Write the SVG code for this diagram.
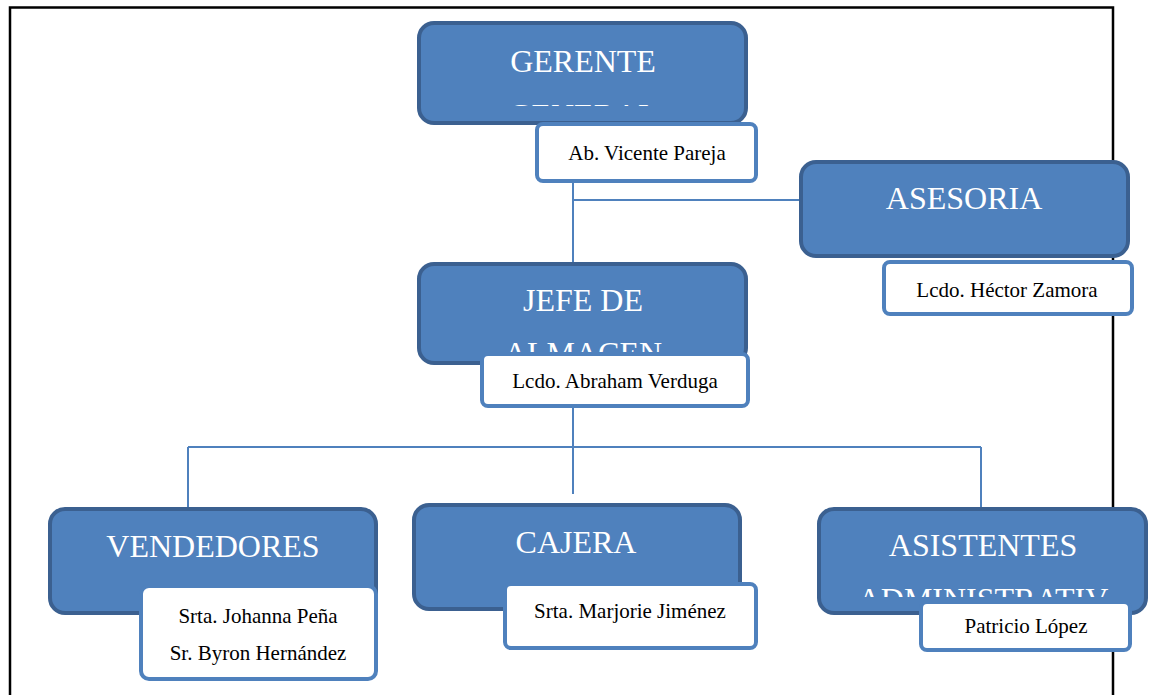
<svg xmlns="http://www.w3.org/2000/svg" width="1155" height="695" viewBox="0 0 1155 695">
<style>
.pg{fill:none;stroke:#000;stroke-width:2.5}
.box{fill:#4f81bd;stroke:#3b6090;stroke-width:4}
.nb{fill:#fff;stroke:#4f81bd;stroke-width:4}
.t{font-family:"Liberation Serif","Times New Roman",serif;font-size:32px;fill:#fff;text-anchor:middle}
.n{font-family:"Liberation Serif","Times New Roman",serif;font-size:21px;fill:#000;text-anchor:middle}
.c{fill:none;stroke:#4f81bd;stroke-width:2}
</style>
<defs>
<clipPath id="cg"><rect x="420" y="40" width="326" height="66"/></clipPath>
<clipPath id="cj"><rect x="420" y="280" width="326" height="73"/></clipPath>
<clipPath id="ca"><rect x="820" y="525" width="326" height="72"/></clipPath>
</defs>
<path class="pg" d="M10 695 V7.5 H1113 V695"/>
<g id="connectors">
<path class="c" d="M573 183 V263"/>
<path class="c" d="M573 200 H800"/>
<path class="c" d="M573 408 V494"/>
<path class="c" d="M188 447 H981"/>
<path class="c" d="M188 447 V508"/>
<path class="c" d="M981 447 V507"/>
</g>
<g id="gerente">
<rect class="box" x="419" y="23" width="327" height="100" rx="15"/>
<text class="t" x="583" y="72">GERENTE</text>
<text class="t" x="583" y="126" clip-path="url(#cg)">GENERAL</text>
<rect class="nb" x="537" y="124" width="219" height="57" rx="6"/>
<text class="n" x="647" y="160">Ab. Vicente Pareja</text>
</g>
<g id="asesoria">
<rect class="box" x="801" y="162" width="327" height="94" rx="15"/>
<text class="t" x="964" y="209">ASESORIA</text>
<rect class="nb" x="884" y="262" width="248" height="52" rx="6"/>
<text class="n" x="1007" y="297">Lcdo. Héctor Zamora</text>
</g>
<g id="jefe">
<rect class="box" x="419" y="264" width="327" height="99" rx="15"/>
<text class="t" x="583" y="311">JEFE DE</text>
<text class="t" x="583" y="364" clip-path="url(#cj)">ALMACEN</text>
<rect class="nb" x="482" y="354" width="266" height="52" rx="6"/>
<text class="n" x="615" y="388">Lcdo. Abraham Verduga</text>
</g>
<g id="vendedores">
<rect class="box" x="50" y="509" width="326" height="104" rx="15"/>
<text class="t" x="213" y="557">VENDEDORES</text>
<rect class="nb" x="141" y="586" width="235" height="93" rx="8"/>
<text class="n" x="258" y="623">Srta. Johanna Peña</text>
<text class="n" x="258" y="660">Sr. Byron Hernández</text>
</g>
<g id="cajera">
<rect class="box" x="414" y="505" width="326" height="104" rx="15"/>
<text class="t" x="576" y="553">CAJERA</text>
<rect class="nb" x="505" y="584" width="251" height="64" rx="6"/>
<text class="n" x="630" y="618">Srta. Marjorie Jiménez</text>
</g>
<g id="asistentes">
<rect class="box" x="819" y="509" width="327" height="104" rx="15"/>
<text class="t" x="983" y="556">ASISTENTES</text>
<text class="t" x="983" y="610" clip-path="url(#ca)">ADMINISTRATIV</text>
<rect class="nb" x="921" y="602" width="209" height="48" rx="6"/>
<text class="n" x="1026" y="633">Patricio López</text>
</g>
</svg>
